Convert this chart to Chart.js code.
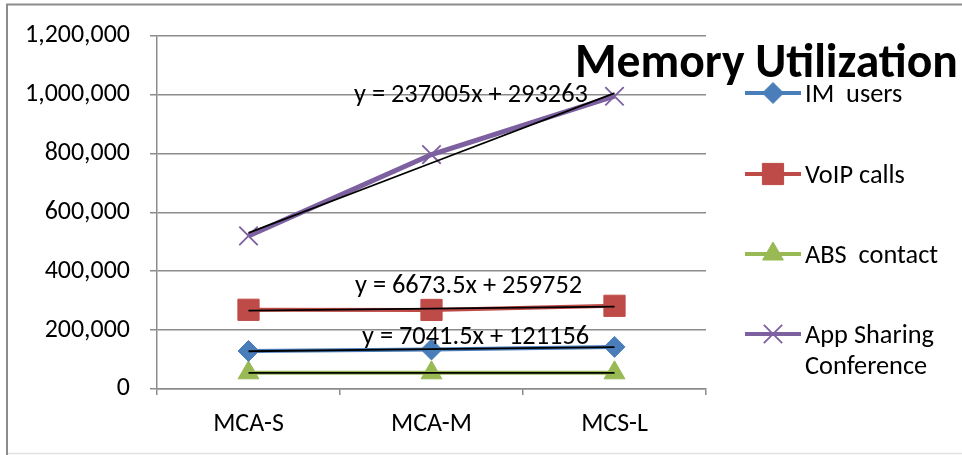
<!DOCTYPE html>
<html><head><meta charset="utf-8">
<script src="https://cdn.jsdelivr.net/npm/chart.js@4.4.0/dist/chart.umd.min.js"></script>
<style>html,body{margin:0;padding:0;background:#fff;}#wrap{width:962px;height:455px;position:relative}</style>
</head><body><div id="wrap"><canvas id="c" width="962" height="455"></canvas></div>
<script>
const categories = ['MCA-S', 'MCA-M', 'MCS-L'];
const seriesNames = ['IM  users', 'VoIP calls', 'ABS  contact', 'App Sharing\nConference'];
const imUsers = [129000, 134000, 143000];
const voipCalls = [269000, 268500, 282500];
const absContact = [55000, 55000, 55000];
const appSharing = [520000, 796000, 994000];
const trendSlopes = [7041.5, 6673.5, 0, 237005];
const trendIntercepts = [121156, 259752, 55000, 293263];
const trendLabels = ['y = 7041.5x + 121156', 'y = 6673.5x + 259752', '', 'y = 237005x + 293263'];
const yTickValues = [0, 200000, 400000, 600000, 800000, 1000000, 1200000];
const chartTitle = 'Memory Utilization';

const FAMILY = 'Carlito, Lato, "Open Sans", sans-serif';
const mctx = document.createElement('canvas').getContext('2d');
function fitSize(text, w, weight) {
  mctx.font = (weight || 'normal') + ' 100px ' + FAMILY;
  return 100 * w / mctx.measureText(text).width;
}
const yTickSize = fitSize('1,200,000', 105);
const xTickSize = fitSize('MCA-M', 81);
const titleSize = fitSize(chartTitle, 383, 'bold');
const eqSize = fitSize('y = 237005x + 293263', 234);
const legSize = fitSize('App Sharing', 129);

const colors = ['#4a7ebb', '#be4b48', '#98b954', '#7d60a0'];
const styles = ['rectRot', 'rect', 'triangle', 'crossRot'];
const radii = [10.5, 15, 12, 13];
const seriesData = [imUsers, voipCalls, absContact, appSharing];

const datasets = [];
seriesData.forEach((d, i) => {
  datasets.push({
    label: seriesNames[i], data: d, borderColor: colors[i], backgroundColor: colors[i],
    borderWidth: i === 3 ? 5 : 4, pointStyle: styles[i], pointRadius: radii[i],
    pointBorderWidth: i === 3 ? 1.8 : 1, pointBorderColor: colors[i], pointBackgroundColor: colors[i],
    tension: 0, order: 1
  });
});
seriesData.forEach((d, i) => {
  datasets.push({
    label: 'trend' + i,
    data: categories.map((_, k) => trendSlopes[i] * (k + 1) + trendIntercepts[i]),
    borderColor: '#000', borderWidth: 1.8, pointRadius: 0, tension: 0, order: 0
  });
});

const gridColor = '#8c8c8c';
const decor = {
  id: 'decor',
  afterDraw(chart) {
    const ctx = chart.ctx;
    ctx.save();
    ctx.strokeStyle = '#8c8c8c'; ctx.lineWidth = 2;
    ctx.beginPath(); ctx.moveTo(7, 455); ctx.lineTo(7, 4.5); ctx.lineTo(962, 4.5); ctx.stroke();
    ctx.strokeStyle = '#e2e2e2'; ctx.lineWidth = 1.5;
    ctx.beginPath(); ctx.moveTo(8, 453.5); ctx.lineTo(962, 453.5); ctx.stroke();
    ctx.fillStyle = '#000';
    ctx.font = 'bold ' + titleSize + 'px ' + FAMILY;
    ctx.textBaseline = 'alphabetic'; ctx.textAlign = 'left';
    ctx.fillText(chartTitle, 575, 77);
    ctx.font = eqSize + 'px ' + FAMILY;
    const eqPos = [[362, 344], [355, 293], null, [354, 102]];
    trendLabels.forEach((t, i) => { if (t && eqPos[i]) ctx.fillText(t, eqPos[i][0], eqPos[i][1]); });
    const ly = [93, 174, 254, 334];
    ctx.font = legSize + 'px ' + FAMILY;
    seriesNames.forEach((name, i) => {
      const y = ly[i];
      ctx.strokeStyle = colors[i]; ctx.lineWidth = 4;
      ctx.beginPath(); ctx.moveTo(745, y); ctx.lineTo(801, y); ctx.stroke();
      ctx.fillStyle = colors[i]; ctx.strokeStyle = colors[i];
      ctx.lineWidth = i === 3 ? 1.8 : 1;
      Chart.helpers.drawPoint(ctx, { pointStyle: styles[i], radius: radii[i], rotation: 0, borderWidth: i === 3 ? 1.8 : 1 }, 773, y);
      ctx.fillStyle = '#000';
      name.split('\n').forEach((ln, k) => ctx.fillText(ln, 805, y + 8.5 + k * 31));
    });
    ctx.restore();
  }
};

new Chart(document.getElementById('c'), {
  type: 'line',
  data: { labels: categories, datasets },
  options: {
    responsive: false, animation: false, devicePixelRatio: 1,
    layout: { padding: { top: 34, right: 256, left: 0, bottom: 0 } },
    plugins: { legend: { display: false }, tooltip: { enabled: false }, title: { display: false } },
    scales: {
      x: {
        offset: true,
        grid: { display: true, drawOnChartArea: false, drawTicks: true, tickLength: 6, color: gridColor, lineWidth: 1.5, offset: true },
        border: { display: true, color: gridColor, width: 1.5 },
        ticks: { color: '#000', font: { family: FAMILY, size: xTickSize }, padding: 14, maxRotation: 0 },
        afterFit(s) { s.height = 66; }
      },
      y: {
        min: 0, max: 1200000,
        afterBuildTicks(s) { s.ticks = yTickValues.map(v => ({ value: v })); },
        grid: { color: gridColor, lineWidth: 1.5, drawTicks: true, tickLength: 7 },
        border: { display: true, color: gridColor, width: 1.5 },
        ticks: { color: '#000', font: { family: FAMILY, size: yTickSize }, padding: 20,
          callback: v => v.toLocaleString('en-US') },
        afterFit(s) { s.width = 157; }
      }
    }
  },
  plugins: [decor]
});
</script></body></html>
